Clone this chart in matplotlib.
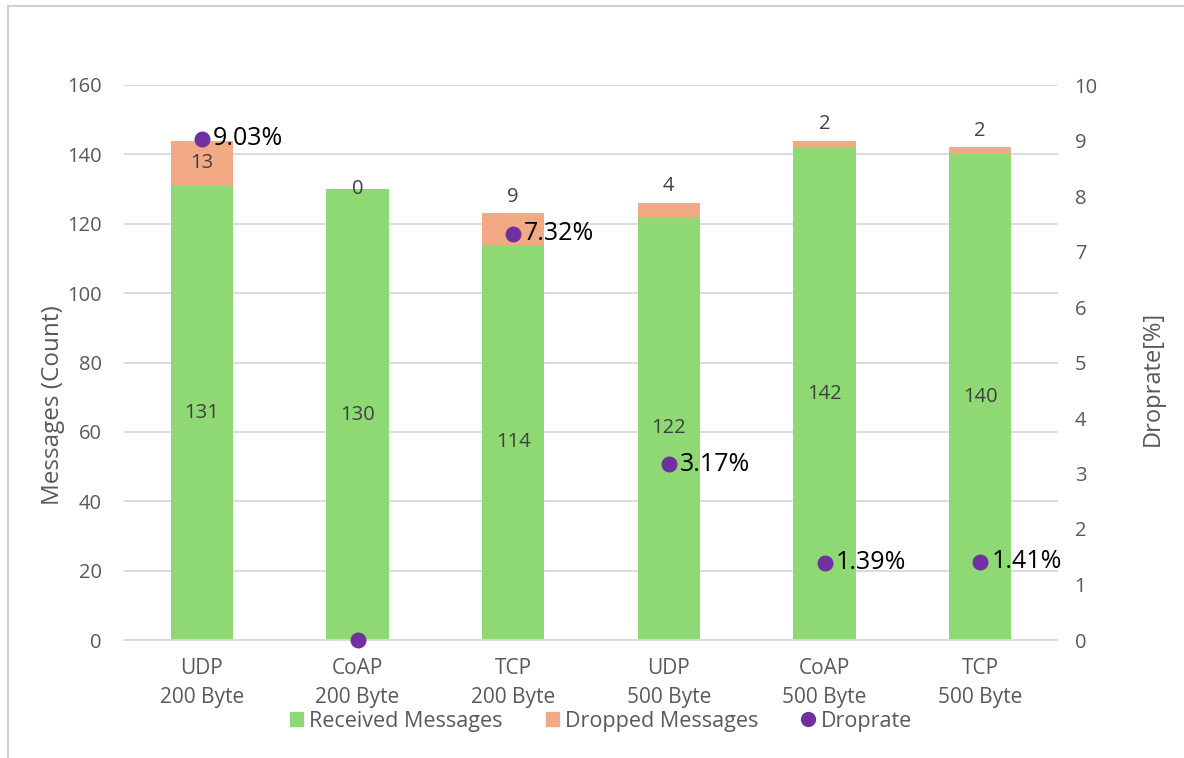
import matplotlib
matplotlib.use("Agg")
import matplotlib.pyplot as plt
from matplotlib.lines import Line2D
from matplotlib.patches import Patch
import numpy as np

categories = ["UDP\n200 Byte", "CoAP\n200 Byte", "TCP\n200 Byte",
              "UDP\n500 Byte", "CoAP\n500 Byte", "TCP\n500 Byte"]
received = [131, 130, 114, 122, 142, 140]
dropped = [13, 0, 9, 4, 2, 2]
droprate = [9.03, 0.0, 7.32, 3.17, 1.39, 1.41]
droprate_labels = ["9.03%", None, "7.32%", "3.17%", "1.39%", "1.41%"]

GREEN = "#8FD974"
ORANGE = "#F2AA84"
PURPLE = "#7030A0"
GRAY = "#595959"
GRID = "#D9D9D9"

plt.rcParams["font.family"] = ["Open Sans", "DejaVu Sans"]

fig = plt.figure(figsize=(11.84, 7.58), dpi=100)
ax = fig.add_axes([124 / 1184, 1 - 640 / 758, (1058 - 124) / 1184, (640 - 85) / 758])
ax2 = ax.twinx()

x = np.arange(len(categories))
width = 0.4
ax.bar(x, received, width, color=GREEN, zorder=2)
ax.bar(x, dropped, width, bottom=received, color=ORANGE, zorder=2)

label_fs = 14.5
for i in range(len(x)):
    ax.text(x[i], received[i] / 2, str(received[i]), ha="center", va="center",
            fontsize=label_fs, color="#404040", zorder=3)
    top = received[i] + dropped[i]
    if dropped[i] >= 10 or dropped[i] == 0:
        ax.text(x[i], received[i] + dropped[i] / 2, str(dropped[i]),
                ha="center", va="center", fontsize=label_fs, color="#404040", zorder=3)
    else:
        ax.annotate(str(dropped[i]), (x[i], top), xytext=(0, 12),
                    textcoords="offset points", ha="center", va="center",
                    fontsize=label_fs, color="#404040", zorder=3)

ax.set_xlim(-0.5, len(x) - 0.5)
ax.set_ylim(0, 160)
ax.set_yticks(range(0, 161, 20))
ax.yaxis.grid(True, color=GRID, linewidth=1.3, zorder=0)
ax.set_axisbelow(True)
ax.set_xticks(x)
ax.set_xticklabels(categories, fontsize=15, color=GRAY, linespacing=1.5)
ax.tick_params(axis="y", labelsize=14.5, colors=GRAY, length=0, pad=16)
ax.tick_params(axis="x", length=0, pad=13)
ax.set_ylabel("Messages (Count)", fontsize=17.5, color=GRAY)
ax.yaxis.set_label_coords((65 - 124) / 934, (640 - 405) / 555)
for s in ax.spines.values():
    s.set_visible(False)
ax.spines["bottom"].set_visible(True)
ax.spines["bottom"].set_color(GRID)
ax.spines["bottom"].set_linewidth(1.3)

ax2.scatter(x, droprate, s=110, color=PURPLE, zorder=4, clip_on=False)
for i, lab in enumerate(droprate_labels):
    if lab:
        ax2.annotate(lab, (x[i], droprate[i]), xytext=(8, 0), textcoords="offset points",
                     ha="left", va="center", fontsize=18, color="black")
ax2.set_ylim(0, 10)
ax2.set_yticks(range(0, 11))
ax2.tick_params(axis="y", labelsize=14.5, colors=GRAY, length=0, pad=12)
ax2.set_ylabel("Droprate[%]", fontsize=17, color=GRAY, rotation=90)
ax2.yaxis.set_label_coords(1 + (1141 - 1058) / 934, (640 - 378) / 555)
for s in ax2.spines.values():
    s.set_visible(False)

handles = [Patch(color=GREEN, label="Received Messages"),
           Patch(color=ORANGE, label="Dropped Messages"),
           Line2D([], [], marker="o", linestyle="none", markersize=10,
                  color=PURPLE, label="Droprate")]
fig.legend(handles=handles, loc="center", bbox_to_anchor=(601 / 1184, 1 - 721 / 758),
           ncol=3, frameon=False, fontsize=15.5, labelcolor=GRAY,
           handlelength=0.6, handleheight=0.6, handletextpad=0.3, columnspacing=2.0)

# outer frame edges
fig.add_artist(Line2D([8 / 1184, 8 / 1184], [0, 1 - 6 / 758], transform=fig.transFigure,
                      color="#D0D0D0", linewidth=1.5))
fig.add_artist(Line2D([8 / 1184, 1], [1 - 6 / 758, 1 - 6 / 758], transform=fig.transFigure,
                      color="#D0D0D0", linewidth=1.5))

fig.savefig("out.png", dpi=100, facecolor="white")
